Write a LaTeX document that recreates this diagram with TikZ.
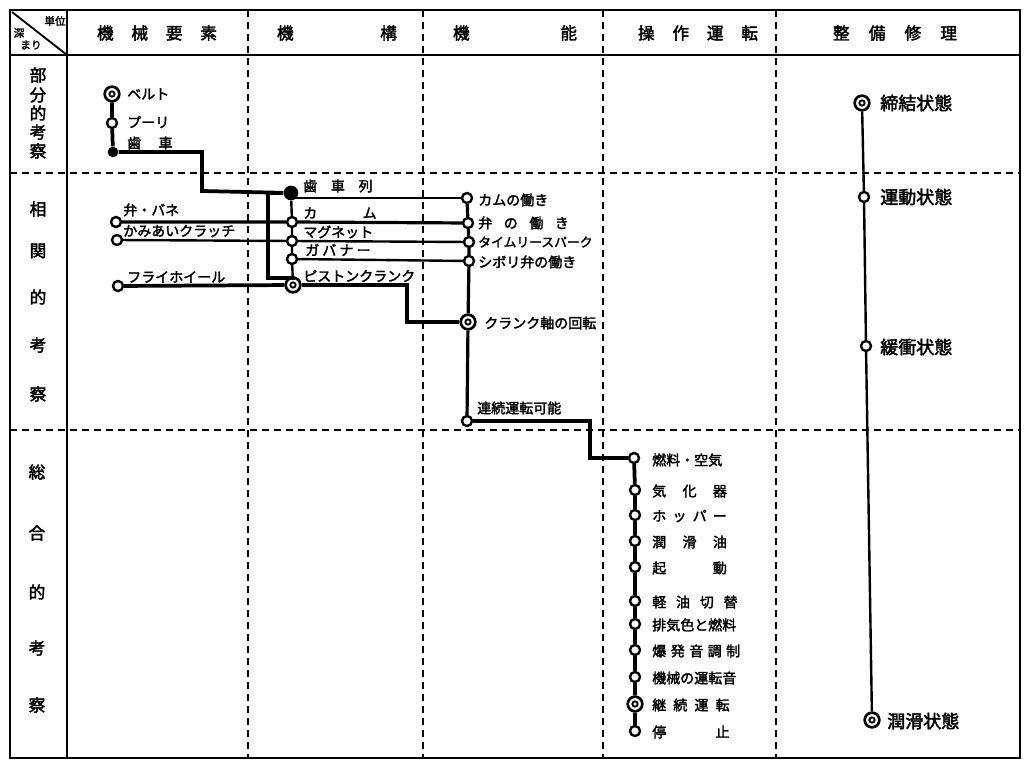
\documentclass[tikz,border=0pt]{standalone}
\usepackage{fontspec}
\newfontfamily\jp{Noto Sans CJK JP}[FakeBold=2.2]
\newcommand\sprd[2]{\makebox[#1]{#2}}
\begin{document}
\begin{tikzpicture}[x=0.75pt,y=-0.75pt,
  frame/.style={line width=1.9pt},
  grid/.style={line width=1.7pt,dash pattern=on 5.5pt off 3.5pt},
  sm/.style={circle,draw,line width=1.8pt,fill=white,inner sep=0pt,minimum size=7.5pt},
  dbl/.style={circle,draw,line width=2pt,fill=white,inner sep=0pt,minimum size=11pt,
    path picture={\draw[line width=1.4pt] (path picture bounding box.center) circle (2pt);}},
  fil/.style={circle,fill,inner sep=0pt,minimum size=8pt},
  lbl/.style={font=\jp\fontsize{10.5}{11}\selectfont,inner sep=0pt,anchor=west},
  big/.style={font=\jp\fontsize{13.5}{14}\selectfont,inner sep=0pt},
  hdr/.style={font=\jp\fontsize{12.5}{13}\selectfont,inner sep=0pt},
  side/.style={font=\jp\fontsize{12.5}{13}\selectfont,inner sep=0pt},
  tiny/.style={font=\jp\fontsize{8}{8}\selectfont,inner sep=0pt},
  main/.style={line width=2.8pt},
  conn/.style={line width=1.8pt},
  conn2/.style={line width=2.4pt}]
\useasboundingbox (0,0) rectangle (1025,762);
\fill[white] (0,0) rectangle (1025,762);
% ---- frame and grid
\draw[frame] (10,10) rectangle (1020,758);
\draw[frame] (10,55) -- (1020,55);
\draw[frame] (67,10) -- (67,758);
\draw[line width=1.4pt] (12,12) -- (67,55);
\foreach \xx in {248,423,603,776} \draw[grid] (\xx,10) -- (\xx,758);
\draw[grid] (10,173) -- (1020,173);
\draw[grid] (10,430) -- (1020,430);
% ---- corner cell
\node[tiny] (c1) at (55,21) {単位};
\node[tiny] (c2) at (19,33) {深};
\node[tiny] (c3) at (31,45) {まり};
% ---- header
\node[hdr] (h1) at (157,33) {\sprd{90pt}{機\hfill 械\hfill 要\hfill 素}};
\node[hdr] (h2) at (337,33) {\sprd{90pt}{機\hfill 構}};
\node[hdr] (h3) at (515,33) {\sprd{93pt}{機\hfill 能}};
\node[hdr] (h4) at (698,33) {\sprd{90pt}{操\hfill 作\hfill 運\hfill 転}};
\node[hdr] (h5) at (895,33) {\sprd{93pt}{整\hfill 備\hfill 修\hfill 理}};
% ---- row labels
\node[side] (r1a) at (38,75) {部};
\node[side] (r1b) at (38,95) {分};
\node[side] (r1c) at (38,113) {的};
\node[side] (r1d) at (38,132) {考};
\node[side] (r1e) at (38,151) {察};
\node[side] (r2a) at (38,209) {相};
\node[side] (r2b) at (38,251) {関};
\node[side] (r2c) at (38,297) {的};
\node[side] (r2d) at (38,345) {考};
\node[side] (r2e) at (38,394) {察};
\node[side] (r3a) at (37,472) {総};
\node[side] (r3b) at (37,533) {合};
\node[side] (r3c) at (37,592) {的};
\node[side] (r3d) at (37,648) {考};
\node[side] (r3e) at (37,705) {察};
% ---- machine elements
\node[dbl] (belt) at (112,94) {};
\node[sm] (pulley) at (112,123) {};
\node[fil] (gear) at (113,152) {};
\node[sm] (benbane) at (116,222) {};
\node[sm] (clutch) at (117,240) {};
\node[sm] (flywheel) at (118,286) {};
\node[lbl] (tbelt) at (127,94) {ベルト};
\node[lbl] (tpulley) at (127,122) {プーリ};
\node[lbl] (tgear) at (127,143) {\sprd{34pt}{歯\hfill 車}};
\node[lbl] (tbenbane) at (123,210) {弁・バネ};
\node[lbl] (tclutch) at (123,231) {かみあいクラッチ};
\node[lbl] (tflywheel) at (127,277) {フライホイール};
% ---- mechanism
\node[fil,minimum size=11pt] (geartrain) at (291,193) {};
\node[sm] (cam) at (292,222) {};
\node[sm] (magnet) at (292,241) {};
\node[sm] (governor) at (292,259) {};
\node[dbl] (piston) at (293,285) {};
\node[lbl] (tgeartrain) at (303,186) {\sprd{52pt}{歯\hfill 車\hfill 列}};
\node[lbl] (tcam) at (303,213) {\sprd{55pt}{カ\hfill ム}};
\node[lbl] (tmagnet) at (303,232) {マグネット};
\node[lbl] (tgovernor) at (305,250) {\sprd{49pt}{ガ\hfill バ\hfill ナ\hfill ー}};
\node[lbl] (tpiston) at (303,276) {ピストンクランク};
% ---- function
\node[sm] (kamuh) at (467,198) {};
\node[sm] (benh) at (468,223) {};
\node[sm] (timely) at (469,242) {};
\node[sm] (shibori) at (469,261) {};
\node[dbl] (crank) at (468,322) {};
\node[sm] (renzoku) at (467,421) {};
\node[lbl] (tkamuh) at (478,200) {カムの働き};
\node[lbl] (tbenh) at (478,223) {\sprd{68pt}{弁\hfill の\hfill 働\hfill き}};
\node[lbl,font=\jp\fontsize{9.6}{10}\selectfont] (ttimely) at (478,242) {タイムリースパーク};
\node[lbl] (tshibori) at (478,262) {シボリ弁の働き};
\node[lbl] (tcrank) at (484,323) {クランク軸の回転};
\node[lbl] (trenzoku) at (477,408) {連続運転可能};
% ---- operation
\node[sm] (fuel) at (634,458) {};
\node[sm] (carb) at (635,490) {};
\node[sm] (hopper) at (635,515) {};
\node[sm] (lube) at (635,541) {};
\node[sm] (start) at (635,567) {};
\node[sm] (keiyu) at (635,601) {};
\node[sm] (haiki) at (635,624) {};
\node[sm] (bakuha) at (635,650) {};
\node[sm] (kikai) at (635,677) {};
\node[dbl] (keizoku) at (635,704) {};
\node[sm] (stop) at (635,731) {};
\node[lbl] (tfuel) at (652,460) {燃料・空気};
\node[lbl] (tcarb) at (652,491) {\sprd{56pt}{気\hfill 化\hfill 器}};
\node[lbl] (thopper) at (652,516) {\sprd{56pt}{ホ\hfill ッ\hfill パ\hfill ー}};
\node[lbl] (tlube) at (652,542) {\sprd{56pt}{潤\hfill 滑\hfill 油}};
\node[lbl] (tstart) at (652,568) {\sprd{56pt}{起\hfill 動}};
\node[lbl] (tkeiyu) at (652,602) {\sprd{64pt}{軽\hfill 油\hfill 切\hfill 替}};
\node[lbl] (thaiki) at (652,625) {排気色と燃料};
\node[lbl] (tbakuha) at (652,651) {\sprd{66pt}{爆\hfill 発\hfill 音\hfill 調\hfill 制}};
\node[lbl] (tkikai) at (652,678) {機械の運転音};
\node[lbl] (tkeizoku) at (652,705) {\sprd{58pt}{継\hfill 続\hfill 運\hfill 転}};
\node[lbl] (tstop) at (652,732) {\sprd{58pt}{停\hfill 止}};
% ---- maintenance
\node[dbl] (teiketsu) at (862,103) {};
\node[sm] (undou) at (864,197) {};
\node[sm] (kanshou) at (866,346) {};
\node[dbl] (junkatsu) at (872,720) {};
\node[big] (tteiketsu) at (880,103) [anchor=west] {締結状態};
\node[big] (tundou) at (880,197) [anchor=west] {運動状態};
\node[big] (tkanshou) at (880,347) [anchor=west] {緩衝状態};
\node[big] (tjunkatsu) at (887,721) [anchor=west] {潤滑状態};
% ---- connectors
\draw[main] (belt) -- (pulley) -- (gear);
\draw[main] (gear) -| (202,191) -- (geartrain);
\draw[main] (geartrain) -| (268,278) -| (piston);
\draw[conn] (geartrain) -- (cam) -- (magnet) -- (governor) -- (piston);
\draw[conn] (geartrain.center |- kamuh) -- (kamuh);
\draw[conn2] (benbane) -- (cam) -- (benh);
\draw[conn] (clutch) -- (magnet) -- (timely);
\draw[conn] (governor) -- (shibori);
\draw[main] (flywheel) -- (piston);
\draw[main] (piston) -| (407,322) -- (crank);
\draw[conn2] (kamuh) -- (benh) -- (timely) -- (shibori) -- (crank) -- (renzoku);
\draw[main] (renzoku) -| (590,458) -- (fuel);
\draw[main] (fuel) -- (carb) -- (hopper) -- (lube) -- (start) -- (keiyu) -- (haiki) -- (bakuha) -- (kikai) -- (keizoku) -- (stop);
\draw[conn] (teiketsu) -- (undou) -- (kanshou) -- (junkatsu);
\end{tikzpicture}
\end{document}
